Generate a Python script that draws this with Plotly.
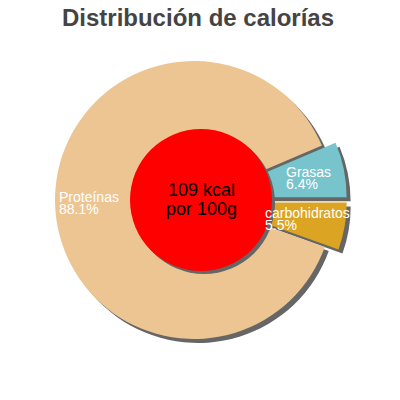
import plotly.graph_objects as go

# datos (orden de dibujo: antihorario desde las 3 en punto)
nombres = ["carbohidratos", "Grasas", "Proteínas"]
porcentajes = [5.5, 6.4, 88.1]
colores = ["#dba422", "#77c4cc", "#edc593"]
separacion = [0.1, 0.1, 0]
titulo = "Distribución de calorías"
centro_texto = ["109 kcal", "por 100g"]

W = H = 400
OFF = 8                        # margen del body en la pagina
cx, cy, r = 194, 200, 139     # centro y radio del pastel en px (pantalla)
sombra = 4                     # desplazamiento de la sombra en px


def px_x(x):
    return (x - OFF) / W


def px_y(y):
    return 1 - (y - OFF) / H


half = r * (1 + max(separacion))


def dominio(dx, dy):
    return dict(x=[px_x(cx - half + dx), px_x(cx + half + dx)],
                y=[px_y(cy + half + dy), px_y(cy - half + dy)])


fig = go.Figure()
# sombra
fig.add_trace(go.Pie(labels=nombres, values=porcentajes, sort=False,
                     direction="counterclockwise", rotation=90,
                     pull=separacion, domain=dominio(sombra, sombra),
                     marker=dict(colors=["#666666"] * 3, line=dict(width=0)),
                     textinfo="none", hoverinfo="skip", showlegend=False))
fig.add_trace(go.Pie(labels=nombres, values=porcentajes, sort=False,
                     direction="counterclockwise", rotation=90,
                     pull=separacion, domain=dominio(0, 0),
                     marker=dict(colors=colores, line=dict(width=0)),
                     textinfo="none", showlegend=False))

# circulo central con sombra
rc, ccx, ccy = 71, 201, 200
for dx, col in [(3, "#666666"), (0, "#ff0000")]:
    fig.add_shape(type="circle", xref="paper", yref="paper",
                  x0=px_x(ccx - rc + dx), x1=px_x(ccx + rc + dx),
                  y0=px_y(ccy + rc + dx), y1=px_y(ccy - rc + dx),
                  fillcolor=col, line=dict(width=0), layer="above")

for i, t in enumerate(centro_texto):
    fig.add_annotation(x=px_x(ccx), y=px_y(190 + i * 19), xref="paper", yref="paper",
                       text=t, showarrow=False, yanchor="middle",
                       font=dict(family="Liberation Sans", size=18, color="black"))

# etiquetas (izquierda, y de la primera linea)
pos_etiquetas = [(263, 213), (284, 172), (57, 197)]
for nom, pct, (lx, ly) in zip(nombres, porcentajes, pos_etiquetas):
    for i, t in enumerate([nom, "%.1f%%" % pct]):
        fig.add_annotation(x=px_x(lx), y=px_y(ly + i * 12), xref="paper", yref="paper",
                           text=t, showarrow=False, xanchor="left", yanchor="middle",
                           font=dict(family="Liberation Sans", size=14, color="white"))

fig.update_layout(
    width=W, height=H,
    margin=dict(l=0, r=0, t=0, b=0),
    paper_bgcolor="white", plot_bgcolor="white",
    title=dict(text="<b>" + titulo + "</b>", x=px_x(198), xanchor="center",
               y=px_y(18), yanchor="middle",
               font=dict(family="Liberation Sans", size=24, color="#444444")),
)

fig.write_html("out.html")
